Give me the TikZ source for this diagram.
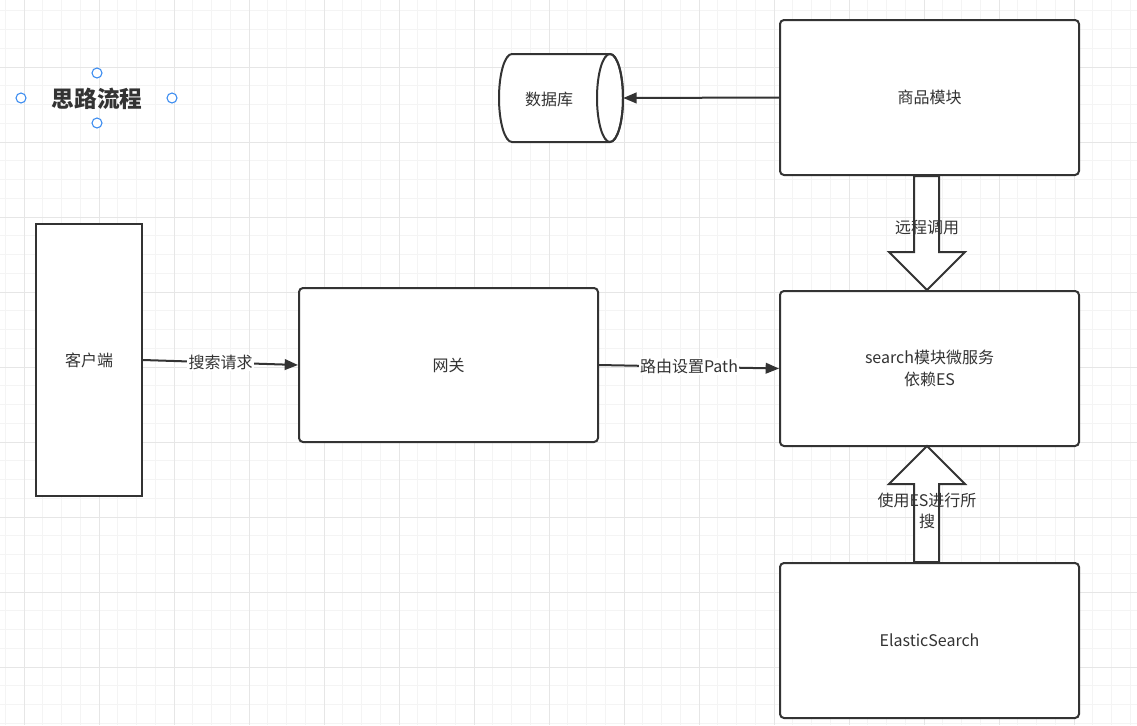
\documentclass[tikz,border=0pt]{standalone}
\usepackage{fontspec}
\setmainfont{Noto Sans CJK SC}
\usetikzlibrary{arrows.meta,calc}
\definecolor{ink}{HTML}{333333}
\definecolor{gridminor}{HTML}{F4F4F4}
\definecolor{gridmajor}{HTML}{E6E6E6}
\definecolor{handle}{HTML}{3B8CF0}
\tikzset{
  box/.style={draw=ink, line width=1.5pt, fill=white, rounded corners=3pt, text=ink,
    font=\fontsize{12pt}{16pt}\selectfont, minimum width=224.25pt, minimum height=116.25pt, align=center},
  conn/.style={draw=ink, line width=1.5pt, -{Triangle[length=10pt,width=8pt]}},
  elabel/.style={fill=white, inner sep=1pt, text=ink, font=\fontsize{12pt}{16pt}\selectfont},
  blockarrow/.style={draw=ink, line width=1.5pt, fill=white, line join=miter},
  alabel/.style={text=ink, font=\fontsize{12pt}{16pt}\selectfont, align=center, inner sep=0pt},
  handlec/.style={draw=handle, line width=0.8pt, fill=white}
}
\begin{document}
\begin{tikzpicture}[x=0.75pt,y=-0.75pt]
\useasboundingbox (0,0) rectangle (1137,725);
\fill[white] (0,0) rectangle (1137,725);
% grid
\foreach \i in {0,...,60} {
  \pgfmathsetmacro\gx{5.25+18.75*\i}
  \draw[gridminor, line width=0.75pt] (\gx,0) -- (\gx,725);
}
\foreach \j in {0,...,38} {
  \pgfmathsetmacro\gy{10.75+18.75*\j}
  \draw[gridminor, line width=0.75pt] (0,\gy) -- (1137,\gy);
}
\foreach \i in {0,...,15} {
  \pgfmathsetmacro\gx{24+75*\i}
  \draw[gridmajor, line width=0.75pt] (\gx,0) -- (\gx,725);
}
\foreach \j in {0,...,8} {
  \pgfmathsetmacro\gy{67+75*\j}
  \draw[gridmajor, line width=0.75pt] (0,\gy) -- (1137,\gy);
}
% title
\node[text=ink, font=\fontsize{17pt}{20pt}\selectfont\bfseries] (title) at (97,99) {思路流程};
\draw[handlec] (97,73) circle[radius=3.75pt];
\draw[handlec] (21,98) circle[radius=3.75pt];
\draw[handlec] (172,98) circle[radius=3.75pt];
\draw[handlec] (97,123) circle[radius=3.75pt];
% database cylinder
\node[minimum width=93pt, minimum height=66pt, inner sep=0pt] (db) at (561,98) {};
\draw[ink, line width=1.5pt, fill=white]
  (512,54) -- (610,54) arc[start angle=90, end angle=-90, x radius=9.75pt, y radius=33pt]
  -- (512,142) arc[start angle=270, end angle=90, x radius=9.75pt, y radius=33pt] -- cycle;
\draw[ink, line width=1.5pt] (610,98) ellipse[x radius=9.75pt, y radius=33pt];
\node[text=ink, font=\fontsize{12pt}{16pt}\selectfont] (dbt) at (549,99) {数据库};
% boxes
\node[box] (sp) at (929.5,97.5) {商品模块};
\node[box, rounded corners=0pt, minimum width=79.5pt, minimum height=204pt] (kh) at (89,360) {客户端};
\node[box, minimum height=115.5pt] (gw) at (448.5,365) {网关};
\node[box] (se) at (929.5,368.5) {search模块微服务\\依赖ES};
\node[box] (es) at (929.5,640.5) {ElasticSearch};
% connectors
\draw[conn] (sp.west) -- (db.east);
\draw[conn] (kh.east) -- node[elabel] (l1) {搜索请求} (gw.west);
\draw[conn] (gw.east) -- node[elabel] (l2) {路由设置Path} (se.west);
% block arrows
\draw[blockarrow] ($(sp.south)+(-15.5,0)$) -- ++(0,76) -- ++(-25,0) -- ++(38,38) -- ++(38,-38) -- ++(-26,0) -- ++(0,-76) -- cycle;
\node[alabel] (l3) at (927,228) {远程调用};
\draw[blockarrow] ($(es.north)+(-15.5,0)$) -- ++(0,-78) -- ++(-25,0) -- ++(38,-38) -- ++(38,38) -- ++(-26,0) -- ++(0,78) -- cycle;
\node[alabel] (l4) at (927,511) {使用ES进行所\\搜};
\end{tikzpicture}
\end{document}
